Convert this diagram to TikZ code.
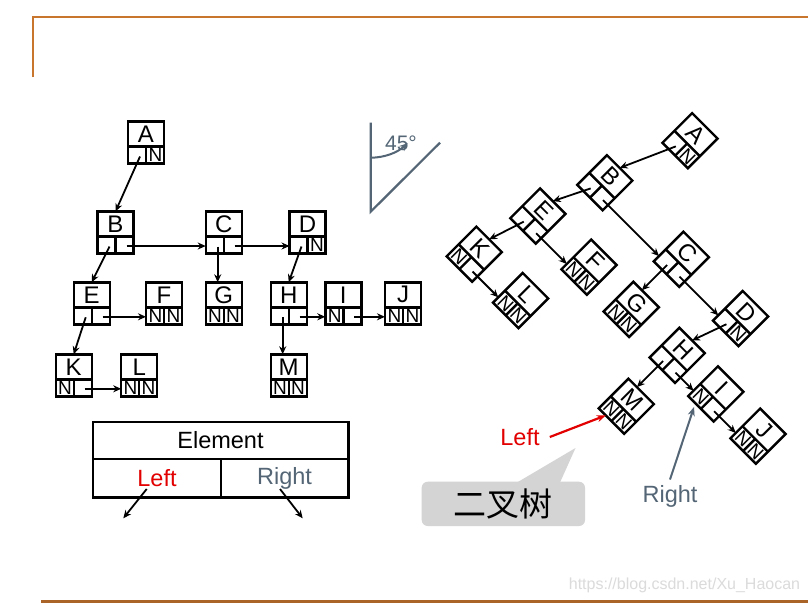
\documentclass[tikz,border=0pt]{standalone}
\usepackage{fontspec}
\setmainfont{Liberation Sans}
\newfontfamily\cjk{Noto Sans CJK SC}
\usetikzlibrary{arrows.meta}
\definecolor{frameor}{RGB}{200,118,46}
\definecolor{slate}{RGB}{84,102,118}
\definecolor{redl}{RGB}{226,0,0}
\definecolor{bubble}{RGB}{212,212,212}
\tikzset{
  boxline/.style={line width=2.4pt},
  ptr/.style={line width=1.8pt,-{Stealth[length=8pt,width=7pt]}},
  lettr/.style={inner sep=0pt,font=\fontsize{24}{24}\selectfont},
  tabtext/.style={inner sep=0pt,font=\fontsize{23.5}{24}\selectfont},
  nmark/.style={inner sep=0pt,font=\fontsize{19}{19}\selectfont},
  pics/bn/.style n args={3}{code={
    \draw[boxline] (-18,-21) rectangle (18,21);
    \draw[boxline] (-18,4) -- (18,4) (0,4) -- (0,21);
    \node[lettr] (-t) at (0,-8.5) {#1};
    \node[nmark] (-ln) at (-8.6,12.7) {#2};
    \node[nmark] (-rn) at (9.4,12.7) {#3};
    \coordinate (-l) at (-6,14);
    \coordinate (-r) at (11,13.5);
    \coordinate (-n) at (0,-21);
    \coordinate (-nl) at (-6,-21);
    \coordinate (-w) at (-18,13.5);
    \coordinate (-bl) at (-8,21);
  }}
}
\newcommand\drawtree[1]{%
  \pic (#1A) at (0,0) {bn={A}{}{N}};
  \pic (#1B) at (-30.5,90) {bn={B}{}{}};
  \pic (#1C) at (77.7,90) {bn={C}{}{}};
  \pic (#1D) at (161.5,90) {bn={D}{}{N}};
  \pic (#1E) at (-54.3,160.8) {bn={E}{}{}};
  \pic (#1F) at (18,160.8) {bn={F}{N}{N}};
  \pic (#1G) at (77.7,160.8) {bn={G}{N}{N}};
  \pic (#1H) at (142.7,160.8) {bn={H}{}{}};
  \pic (#1I) at (197.3,160.8) {bn={I}{N}{}};
  \pic (#1J) at (257,160.8) {bn={J}{N}{N}};
  \pic (#1K) at (-72.3,232.8) {bn={K}{N}{}};
  \pic (#1L) at (-6.8,232.8) {bn={L}{N}{N}};
  \pic (#1M) at (142.7,232.8) {bn={M}{N}{N}};
  \draw[ptr] (#1A-l) -- (#1B-n);
  \draw[ptr] (#1B-l) -- (#1E-n);
  \draw[ptr] (#1B-r) -- (#1C-w);
  \draw[ptr] (#1C-r) -- (#1D-w);
  \draw[ptr] (#1C-l) -- (#1G-nl);
  \draw[ptr] (#1D-l) -- (#1H-n);
  \draw[ptr] (#1E-l) -- (#1K-n);
  \draw[ptr] (#1E-r) -- (#1F-w);
  \draw[ptr] (#1H-l) -- (#1M-nl);
  \draw[ptr] (#1H-r) -- (#1I-w);
  \draw[ptr] (#1I-r) -- (#1J-w);
  \draw[ptr] (#1K-r) -- (#1L-w);
}
\begin{document}
\begin{tikzpicture}[x=1pt,y=-1pt]
  \useasboundingbox (0,0) rectangle (808,603);
  \fill[white] (0,0) rectangle (808,603);
  % frame lines
  \draw[frameor,line width=2.6pt] (33,77) -- (33,17) -- (808,17);
  \draw[frameor!85!black,line width=3pt] (41,601) -- (808,601);
  % left tree
  \begin{scope}[shift={(146,142.5)}]
    \drawtree{l}
  \end{scope}
  % right (rotated) tree
  \begin{scope}[shift={(690,140.7)},rotate=-45,transform shape]
    \drawtree{r}
  \end{scope}
  % 45 degree sign
  \coordinate (v) at (370.7,211.7);
  \coordinate (vt) at (370.7,122.7);
  \coordinate (vd) at (440,142.7);
  \draw[slate,line width=2.2pt] (vt) -- (v) -- (vd);
  \draw[slate,line width=2pt,-{Stealth[length=8pt,width=7pt]}] (370.7,157.7) arc[start angle=90,end angle=47,radius=54];
  \node[slate,inner sep=0pt,font=\fontsize{21}{21}\selectfont] (deg) at (401,143) {45°};
  % element table
  \draw[boxline] (92.7,421.7) rectangle (348.3,497.3);
  \draw[boxline] (92.7,459) -- (348.3,459) (220.7,459) -- (220.7,497.3);
  \node[tabtext] (elem) at (220.5,440.5) {Element};
  \node[tabtext,redl] (tl) at (157,478) {Left};
  \node[tabtext,slate] (tr) at (284.5,478) {Right};
  \coordinate (tla) at (123.3,518.3);
  \coordinate (tra) at (302.7,518.3);
  \draw[ptr] (146.7,489) -- (tla);
  \draw[ptr] (280,489) -- (tra);
  % labels for rotated tree
  \node[redl,inner sep=2pt,font=\fontsize{23.5}{24}\selectfont] (lbl) at (520,437) {Left};
  \draw[redl,line width=2.2pt,-{Stealth[length=9pt,width=7pt]}] ([xshift=8pt]lbl.east) -- (rM-bl);
  \node[slate,inner sep=2pt,font=\fontsize{23.5}{24}\selectfont] (rlbl) at (670,496.7) {Right};
  \draw[slate,line width=2pt,-{Stealth[length=9pt,width=7pt]},shorten >=4pt] ([yshift=4pt]rlbl.north) -- (rI-bl);
  % bubble
  \fill[bubble,rounded corners=6pt] (421.7,481.7) rectangle (585,526);
  \fill[bubble] (517,482.5) -- (575.5,448) -- (560,482.5) -- cycle;
  \node[inner sep=0pt,font=\cjk\fontsize{33}{33}\selectfont] (bt) at (503,504) {二叉树};
  % watermark
  \node[gray!28,inner sep=0pt,font=\fontsize{16}{16}\selectfont] (wm) at (684.5,585) {https://blog.csdn.net/Xu\_Haocan};
\end{tikzpicture}
\end{document}
